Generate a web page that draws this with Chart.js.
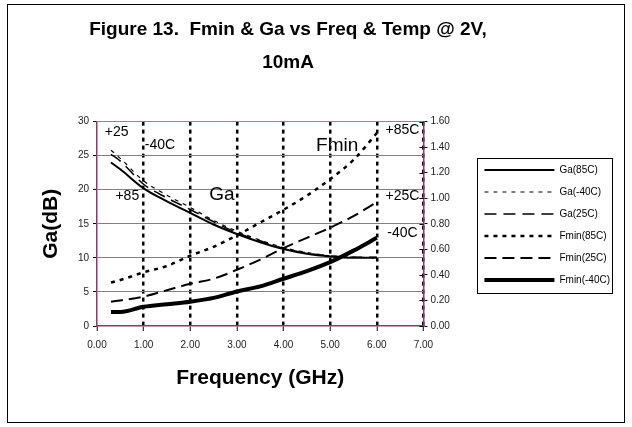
<!DOCTYPE html>
<html lang="en">
<head>
<meta charset="UTF-8">
<title>Figure 13. Fmin &amp; Ga vs Freq &amp; Temp @ 2V, 10mA</title>
<script src="https://cdn.jsdelivr.net/npm/chart.js"></script>
<style>
  html, body { margin: 0; padding: 0; background: #fff; }
  #wrap { position: relative; width: 632px; height: 427px; }
</style>
</head>
<body>
<div id="wrap"><canvas id="fig13" width="632" height="427"></canvas></div>
<script>
// frequency points, GHz
const freq = [0.3, 0.5, 1.0, 1.5, 2.0, 2.5, 3.0, 3.5, 4.0, 4.5, 5.0, 5.5, 6.0];

// associated gain, dB (left axis)
const ga85  = [24.0, 23.0, 20.2, 18.3, 16.6, 14.9, 13.5, 12.3, 11.3, 10.6, 10.2, 10.0, 10.0];
const gaM40 = [25.8, 24.6, 21.3, 19.2, 17.4, 15.5, 13.9, 12.6, 11.5, 10.8, 10.3, 10.1, 10.0];
const ga25  = [25.2, 24.2, 20.8, 18.8, 17.1, 15.3, 13.7, 12.5, 11.4, 10.7, 10.3, 10.1, 10.1];

// minimum noise figure, dB (right axis)
const fmin85  = [0.34, 0.36, 0.42, 0.47, 0.55, 0.62, 0.71, 0.81, 0.91, 1.02, 1.15, 1.30, 1.51];
const fmin25  = [0.19, 0.20, 0.23, 0.28, 0.33, 0.37, 0.44, 0.52, 0.61, 0.69, 0.77, 0.86, 0.97];
const fminM40 = [0.11, 0.11, 0.15, 0.17, 0.19, 0.22, 0.27, 0.31, 0.37, 0.43, 0.50, 0.59, 0.69];

const seriesNames = ['Ga(85C)', 'Ga(-40C)', 'Ga(25C)', 'Fmin(85C)', 'Fmin(25C)', 'Fmin(-40C)'];

// text written on the plot: label, freq, Ga-scale value
const plotNotes = [
  ['+25', 0.42, 28.4], ['-40C', 1.35, 26.6], ['+85', 0.65, 19.0],
  ['+85C', 6.55, 28.8], ['+25C', 6.55, 19.0], ['-40C', 6.55, 13.7]
];
const bigNotes = [['Ga', 2.68, 19.3], ['Fmin', 5.15, 26.4]];

const FONT = 'Arial, "Liberation Sans", sans-serif';
Chart.defaults.font.family = FONT;
Chart.defaults.color = '#000';

const AXIS = '#993366';

function points(vals) {
  return freq.map((f, i) => ({ x: f, y: vals[i] }));
}

function line(label, vals, axis, width, dash) {
  return {
    label: label,
    data: points(vals),
    yAxisID: axis,
    borderColor: '#000',
    backgroundColor: '#000',
    borderWidth: width,
    borderDash: dash,
    pointRadius: 0,
    pointStyle: 'line',
    fill: false,
    cubicInterpolationMode: 'monotone'
  };
}

// legend samples take the dash and width of their own line
function legendItems(chart) {
  const items = Chart.defaults.plugins.legend.labels.generateLabels(chart);
  items.forEach(it => {
    const ds = chart.data.datasets[it.datasetIndex];
    it.lineDash = ds.borderDash;
    it.lineWidth = ds.borderWidth;
    it.pointStyle = 'line';
    it.strokeStyle = '#000';
  });
  return items;
}

// outer frame, legend box, and the curve labels
const decor = {
  id: 'decor',
  afterLayout(chart) {
    // push the legend block down next to the curves
    const lg = chart.legend;
    const dy = 153 - lg.top;
    lg.top += dy;
    lg.bottom += dy;
    // heading sits a little left of the page centre
    chart.titleBlock.left -= 26;
    chart.titleBlock.right -= 26;
  },
  beforeDraw(chart) {
    const ctx = chart.ctx;
    ctx.save();
    ctx.fillStyle = '#fff';
    ctx.fillRect(0, 0, chart.width, chart.height);
    ctx.strokeStyle = '#000';
    ctx.lineWidth = 1;
    ctx.strokeRect(7.5, 4.5, 617, 418);
    ctx.restore();
  },
  afterDatasetsDraw(chart) {
    const { ctx, scales: { x, y, y1 } } = chart;
    ctx.save();
    // right-axis tick marks cross the axis line
    ctx.strokeStyle = '#000';
    ctx.lineWidth = 1;
    ctx.beginPath();
    y1.ticks.forEach(t => {
      const py = Math.round(y1.getPixelForValue(t.value)) + 0.5;
      ctx.moveTo(y1.left - 4, py);
      ctx.lineTo(y1.left, py);
    });
    ctx.stroke();

    ctx.fillStyle = '#000';
    ctx.textAlign = 'center';
    ctx.textBaseline = 'middle';
    ctx.font = '14px ' + FONT;
    plotNotes.forEach(([t, f, v]) => ctx.fillText(t, x.getPixelForValue(f), y.getPixelForValue(v)));
    ctx.font = '19px ' + FONT;
    bigNotes.forEach(([t, f, v]) => ctx.fillText(t, x.getPixelForValue(f), y.getPixelForValue(v)));
    ctx.restore();
  },
  afterDraw(chart) {
    const boxes = chart.legend.legendHitBoxes;
    if (!boxes || !boxes.length) return;
    const first = boxes[0], last = boxes[boxes.length - 1];
    const ctx = chart.ctx;
    ctx.save();
    ctx.strokeStyle = '#000';
    ctx.lineWidth = 1;
    const top = Math.round(first.top - 7) + 0.5;
    const bottom = Math.round(last.top + last.height + 8) + 0.5;
    const left = Math.round(first.left - 7) + 0.5;
    ctx.strokeRect(left, top, 612.5 - left, bottom - top);
    ctx.restore();
  }
};

new Chart(document.getElementById('fig13'), {
  type: 'line',
  data: {
    datasets: [
      line(seriesNames[0], ga85, 'y', 2, []),
      line(seriesNames[1], gaM40, 'y', 1.2, [4, 5]),
      line(seriesNames[2], ga25, 'y', 1.5, [12, 7]),
      line(seriesNames[3], fmin85, 'y1', 2.5, [4, 5]),
      line(seriesNames[4], fmin25, 'y1', 2, [12, 6]),
      line(seriesNames[5], fminM40, 'y1', 4, [])
    ]
  },
  options: {
    responsive: false,
    animation: false,
    devicePixelRatio: 1,
    layout: { padding: { left: 8, right: 12, top: 0, bottom: 20 } },
    plugins: {
      title: {
        display: true,
        text: ['Figure 13.  Fmin & Ga vs Freq & Temp @ 2V,', '10mA'],
        font: { size: 19, weight: 'bold', lineHeight: 1.7 },
        color: '#000',
        padding: { top: 14, bottom: 43 }
      },
      legend: {
        position: 'right',
        fullSize: false,
        align: 'start',
        maxWidth: 170,
        labels: {
          usePointStyle: true,
          pointStyleWidth: 70,
          boxHeight: 10,
          padding: 12,
          color: '#000',
          font: { size: 10 },
          generateLabels: legendItems
        }
      },
      tooltip: { enabled: false }
    },
    scales: {
      x: {
        type: 'linear',
        min: 0, max: 7,
        ticks: { stepSize: 1, padding: 8, color: '#222', font: { size: 10 }, callback: v => v.toFixed(2) },
        grid: {
          color: c => c.tick && c.tick.value > 0 ? '#000' : 'rgba(0,0,0,0)',
          lineWidth: 2.5,
          tickColor: '#000',
          tickWidth: 1,
          tickLength: 5
        },
        border: { color: AXIS, width: 1.5, dash: [4, 4] },
        title: { display: true, text: 'Frequency (GHz)', font: { size: 21, weight: 'bold' }, padding: { top: 0, bottom: 16 } },
        afterFit: s => { s.height = 81; }
      },
      y: {
        position: 'left',
        min: 0, max: 30,
        ticks: { stepSize: 5, padding: 4, color: '#222', font: { size: 10 } },
        grid: {
          color: c => c.tick.value === 30 ? '#cc6699' : (c.tick.value === 0 ? 'rgba(0,0,0,0)' : '#808080'),
          lineWidth: 1,
          tickColor: '#000',
          tickLength: 4
        },
        border: { color: AXIS, width: 1.5 },
        title: { display: true, text: 'Ga(dB)', font: { size: 21, weight: 'bold' }, padding: { top: 31, bottom: 0 } },
        afterFit: s => { s.width = 89; }
      },
      y1: {
        position: 'right',
        min: 0, max: 1.6,
        ticks: { stepSize: 0.2, padding: 3, color: '#222', font: { size: 10 }, callback: v => v.toFixed(2) },
        grid: { drawOnChartArea: false, tickColor: '#000', tickLength: 4 },
        border: { color: AXIS, width: 1.5 },
        afterFit: s => { s.width = 49; }
      }
    }
  },
  plugins: [decor]
});
</script>
</body>
</html>
